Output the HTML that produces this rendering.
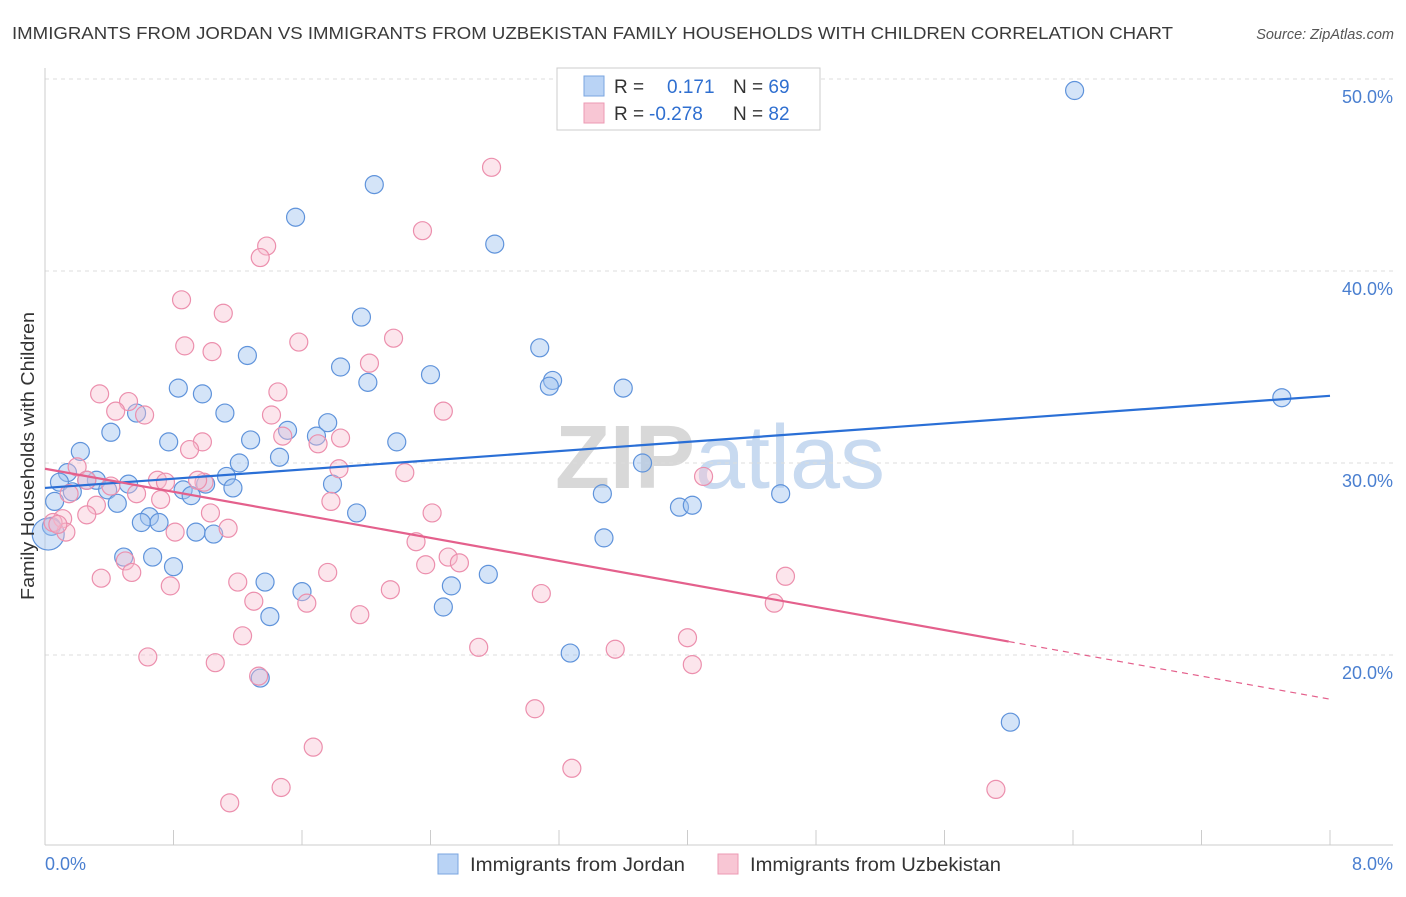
<!DOCTYPE html>
<html><head><meta charset="utf-8"><style>
body{margin:0;background:#fff;font-family:"Liberation Sans",sans-serif;}
svg text{font-family:"Liberation Sans",sans-serif;}
</style></head><body>
<svg id="c" width="1406" height="892" xmlns="http://www.w3.org/2000/svg">
<text x="12" y="39" font-size="17.5" fill="#3a3a3a" textLength="1161" lengthAdjust="spacingAndGlyphs">IMMIGRANTS FROM JORDAN VS IMMIGRANTS FROM UZBEKISTAN FAMILY HOUSEHOLDS WITH CHILDREN CORRELATION CHART</text>
<text x="1394" y="39" font-size="14.5" fill="#555" text-anchor="end" font-style="italic">Source: ZipAtlas.com</text>
<text x="720" y="488" font-size="90" fill="#d8d8d8" text-anchor="middle" font-family="Liberation Serif" font-weight="bold">ZIP<tspan fill="#c8daf0" font-family="Liberation Sans" font-weight="normal">atlas</tspan></text>
<g id="grid"></g><g id="pts"></g><g id="lines"></g>
<text x="34" y="456" font-size="18" fill="#333" text-anchor="middle" transform="rotate(-90 34 456)" textLength="288" lengthAdjust="spacingAndGlyphs">Family Households with Children</text>
<text x="45" y="870" font-size="18" fill="#4a7fd0">0.0%</text>
<text x="1393" y="870" font-size="18" fill="#4a7fd0" text-anchor="end">8.0%</text>
<g>
<rect x="557" y="68" width="263" height="62" fill="#fff" stroke="#ccc"/>
<rect x="584" y="76" width="20" height="20" fill="#b9d3f5" stroke="#7aa6e0"/>
<rect x="584" y="103" width="20" height="20" fill="#f8c6d4" stroke="#ec9ab3"/>
<text x="614" y="93" font-size="19" fill="#333">R = <tspan fill="#2f6fd0" x="667">0.171</tspan><tspan x="733" fill="#333">N = </tspan><tspan fill="#2f6fd0">69</tspan></text>
<text x="614" y="120" font-size="19" fill="#333">R = <tspan fill="#2f6fd0" x="649">-0.278</tspan><tspan x="733" fill="#333">N = </tspan><tspan fill="#2f6fd0">82</tspan></text>
</g>
<g>
<rect x="438" y="854" width="20" height="20" fill="#b9d3f5" stroke="#7aa6e0"/>
<text x="470" y="871" font-size="19" fill="#333" textLength="215" lengthAdjust="spacingAndGlyphs">Immigrants from Jordan</text>
<rect x="718" y="854" width="20" height="20" fill="#f8c6d4" stroke="#ec9ab3"/>
<text x="750" y="871" font-size="19" fill="#333" textLength="251" lengthAdjust="spacingAndGlyphs">Immigrants from Uzbekistan</text>
</g>
</svg>
<script>
const yTicks=[20,30,40,50];
const xTickCount=10;
const jordanX=[6.41,2.05,1.56,2.80,1.97,3.08,1.26,1.84,2.40,2.01,3.16,3.14,3.60,0.83,0.98,1.12,0.57,1.76,0.41,1.51,1.69,1.28,0.77,2.19,0.22,1.46,1.21,3.72,0.14,0.09,0.32,0.52,1.13,0.26,1.00,0.39,0.17,0.86,1.79,1.17,0.91,3.47,4.58,0.45,0.06,7.70,3.95,4.03,1.94,0.65,0.60,0.71,0.94,1.05,3.48,0.04,0.49,0.67,0.80,1.37,2.76,2.53,1.60,2.48,1.40,3.27,1.34,6.01,0.02];
const jordanY=[49.4,44.5,42.8,41.4,37.6,36.0,35.6,35.0,34.6,34.2,34.3,34.0,33.9,33.9,33.6,32.6,32.6,32.1,31.6,31.7,31.4,31.2,31.1,31.1,30.6,30.3,30.0,30.0,29.5,29.0,29.1,28.9,29.3,29.1,28.9,28.6,28.5,28.6,28.9,28.7,28.3,28.4,28.4,27.9,28.0,33.4,27.7,27.8,27.4,27.2,26.9,26.9,26.4,26.3,26.1,26.7,25.1,25.1,24.6,23.8,24.2,23.6,23.3,22.5,22.0,20.1,18.8,16.5,26.3];
const uzbekX=[2.78,2.35,1.38,1.34,0.85,1.11,0.87,1.58,1.04,2.17,2.02,0.34,1.45,0.52,0.44,0.62,2.48,1.41,1.48,0.98,1.84,0.90,1.70,0.20,1.83,2.24,0.26,0.70,0.75,0.99,4.10,0.95,0.41,0.15,0.57,0.72,1.78,0.32,0.26,1.03,2.41,0.11,0.81,1.14,0.13,0.05,0.08,2.31,2.51,2.58,2.37,0.50,0.54,1.76,0.35,1.20,0.78,2.15,3.09,1.30,1.63,4.54,4.61,1.96,1.23,4.00,2.70,3.55,0.64,1.06,4.03,1.33,3.05,1.67,3.28,1.15,1.47,5.92];
const uzbekY=[45.4,42.1,41.3,40.7,38.5,37.8,36.1,36.3,35.8,36.5,35.2,33.6,33.7,33.2,32.7,32.5,32.7,32.5,31.4,31.1,31.3,30.7,31.0,29.8,29.7,29.5,29.1,29.1,29.0,29.0,29.3,29.1,28.8,28.4,28.4,28.1,28.0,27.8,27.3,27.4,27.4,27.1,26.4,26.6,26.4,26.9,26.8,25.9,25.1,24.8,24.7,24.9,24.3,24.3,24.0,23.8,23.6,23.4,23.2,22.8,22.7,22.7,24.1,22.1,21.0,20.9,20.4,20.3,19.9,19.6,19.5,18.9,17.2,15.2,14.1,12.3,13.1,13.0];
const jordanTrend=[28.7,33.5];
const uzbekTrend=[29.7,17.7];
const uzbekSolidEnd=6.0;

const NS="http://www.w3.org/2000/svg";
const X=v=>45+v*160.625, Y=v=>79+(50-v)*19.2;
function mk(t,a,p){const e=document.createElementNS(NS,t);for(const k in a)e.setAttribute(k,a[k]);p.appendChild(e);return e;}
const g=document.getElementById('grid');
yTicks.forEach(t=>{
 const l=mk('line',{x1:45,x2:1393,y1:Y(t),y2:Y(t),stroke:'#ddd','stroke-dasharray':'4 4'},g);
 
 
 const tx=mk('text',{x:1393,y:Y(t)+24,'font-size':18,fill:'#4a7fd0','text-anchor':'end'},g);
 tx.textContent=t.toFixed(1)+'%';
 
 
});
const ax=mk('line',{x1:45,x2:45,y1:68,y2:845,stroke:'#ccc'},g);


const bx=mk('line',{x1:45,x2:1393,y1:845,y2:845,stroke:'#ccc'},g);


for(let i=0;i<=xTickCount;i++){
 const xv=X(i*8/xTickCount);
 const t=mk('line',{x1:xv,x2:xv,y1:830,y2:845,stroke:'#ccc'},g);
 
 
}
const p=document.getElementById('pts');
jordanX.forEach((x,i)=>{
 const c=mk('circle',{cx:X(x),cy:Y(jordanY[i]),r:i==jordanX.length-1?16:9,fill:'rgba(160,196,240,0.45)',stroke:'#5f93db','stroke-width':1.2},p);
 
 
});
uzbekX.forEach((x,i)=>{
 const c=mk('circle',{cx:X(x),cy:Y(uzbekY[i]),r:9,fill:'rgba(248,190,208,0.4)',stroke:'#ec8fad','stroke-width':1.2},p);
 
 
});
const L=document.getElementById('lines');
const bl=mk('line',{x1:X(0),y1:Y(jordanTrend[0]),x2:X(8),y2:Y(jordanTrend[1]),stroke:'#2a6fd6','stroke-width':2.2},L);


const ue=uzbekTrend[0]+(uzbekTrend[1]-uzbekTrend[0])*uzbekSolidEnd/8;
const pl=mk('line',{x1:X(0),y1:Y(uzbekTrend[0]),x2:X(uzbekSolidEnd),y2:Y(ue),stroke:'#e4608c','stroke-width':2.2},L);


const pd=mk('line',{x1:X(uzbekSolidEnd),y1:Y(ue),x2:X(8),y2:Y(uzbekTrend[1]),stroke:'#e4608c','stroke-width':1.2,'stroke-dasharray':'6 5'},L);


</script>
</body></html>
